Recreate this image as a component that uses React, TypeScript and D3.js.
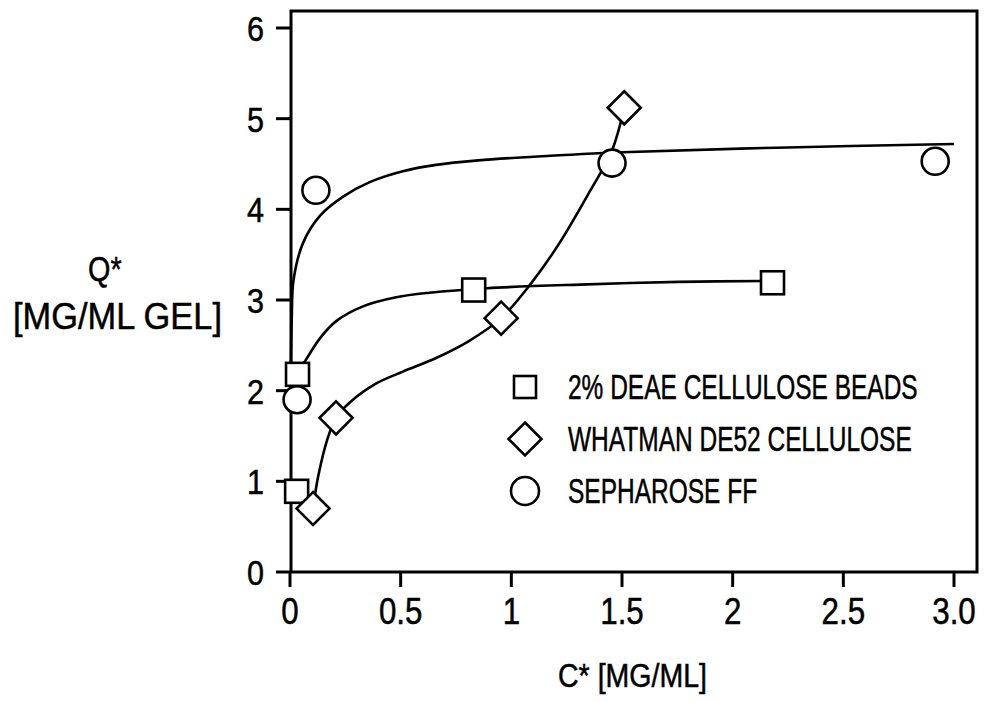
import React from 'react';
import * as d3 from 'd3';

// ---- data ----
const xTicks = [0, 0.5, 1, 1.5, 2, 2.5, 3];
const xTickLabels = ['0', '0.5', '1', '1.5', '2', '2.5', '3.0'];
const yTicks = [0, 1, 2, 3, 4, 5, 6];
const yTickLabels = ['0', '1', '2', '3', '4', '5', '6'];

const seriesNames = ['2% DEAE CELLULOSE BEADS', 'WHATMAN DE52 CELLULOSE', 'SEPHAROSE FF'];

// measured points
const deaeX = [0.03, 0.034, 0.83, 2.18];
const deaeY = [0.89, 2.18, 3.11, 3.19];
const whatX = [0.104, 0.208, 0.954, 1.51];
const whatY = [0.7, 1.7, 2.8, 5.12];
const sephX = [0.032, 0.117, 1.455, 2.915];
const sephY = [1.9, 4.21, 4.51, 4.53];

// fitted curves
const deaeFitX = [0.03, 0.077, 0.136, 0.21, 0.33, 0.48, 0.63, 0.89, 1.31, 1.76, 2.18];
const deaeFitY = [2.18, 2.36, 2.58, 2.77, 2.93, 3.03, 3.08, 3.13, 3.17, 3.2, 3.21];
const whatFitX = [0.104, 0.127, 0.167, 0.208, 0.27, 0.39, 0.51, 0.66, 0.81, 0.954, 1.085, 1.21, 1.355, 1.455, 1.51];
const whatFitY = [0.7, 1.05, 1.45, 1.7, 1.87, 2.08, 2.21, 2.36, 2.55, 2.8, 3.17, 3.6, 4.2, 4.65, 5.12];
const sephFitX = [0.004, 0.008, 0.016, 0.059, 0.136, 0.24, 0.36, 0.51, 0.66, 0.85, 1.1, 1.5, 2.2, 3.0];
const sephFitY = [2.25, 2.8, 3.22, 3.63, 3.93, 4.14, 4.3, 4.42, 4.49, 4.54, 4.58, 4.63, 4.68, 4.72];

const W = 984;
const H = 702;
const FONT = 'Liberation Sans, Arial, Helvetica, sans-serif';

export default function App() {
  const x = d3.scaleLinear().domain([0, 3]).range([290, 954]);
  const y = d3.scaleLinear().domain([0, 6]).range([572, 28]);
  const frame = { left: 291, right: 977, top: 11, bottom: 572 };

  const line = d3
    .line<[number, number]>()
    .x((d) => x(d[0]))
    .y((d) => y(d[1]))
    .curve(d3.curveCatmullRom.alpha(0.5));

  const zip = (a: number[], b: number[]) => a.map((v, i) => [v, b[i]] as [number, number]);

  const sq = (cx: number, cy: number, s: number, key: string) => (
    <rect key={key} x={cx - s / 2} y={cy - s / 2} width={s} height={s} fill="#fff" stroke="#000" strokeWidth={2.6} />
  );
  const dia = (cx: number, cy: number, r: number, key: string) => (
    <path
      key={key}
      d={`M${cx},${cy - r}L${cx + r},${cy}L${cx},${cy + r}L${cx - r},${cy}Z`}
      fill="#fff"
      stroke="#000"
      strokeWidth={2.6}
    />
  );
  const circ = (cx: number, cy: number, r: number, key: string) => (
    <circle key={key} cx={cx} cy={cy} r={r} fill="#fff" stroke="#000" strokeWidth={2.6} />
  );

  const legendX = 525;
  const legendBase = [399, 451, 503];

  const txt = { fill: '#000', stroke: '#000', strokeWidth: 0.5 };

  return (
    <svg
      width={W}
      height={H}
      style={{ position: 'absolute', left: 0, top: 0, background: '#fff' }}
      fontFamily={FONT}
    >
      <rect x={0} y={0} width={W} height={H} fill="#fff" />
      {/* frame */}
      <rect
        x={frame.left}
        y={frame.top}
        width={frame.right - frame.left}
        height={frame.bottom - frame.top}
        fill="none"
        stroke="#000"
        strokeWidth={3}
      />
      {/* y ticks */}
      {yTicks.map((t, i) => (
        <g key={'yt' + t}>
          <line x1={276} x2={frame.left} y1={y(t)} y2={y(t)} stroke="#000" strokeWidth={3} />
          <text transform={`translate(264,${y(t) + 13}) scale(0.85,1)`} textAnchor="end" fontSize={36} {...txt}>
            {yTickLabels[i]}
          </text>
        </g>
      ))}
      {/* x ticks */}
      {xTicks.map((t, i) => (
        <g key={'xt' + t}>
          <line x1={x(t)} x2={x(t)} y1={frame.bottom} y2={587} stroke="#000" strokeWidth={3} />
          <text transform={`translate(${x(t)},624) scale(0.87,1)`} textAnchor="middle" fontSize={36} {...txt}>
            {xTickLabels[i]}
          </text>
        </g>
      ))}
      {/* axis titles */}
      <text transform="translate(88,281) scale(0.8,1)" fontSize={36} {...txt}>
        Q*
      </text>
      <text transform="translate(13,329) scale(0.93,1)" fontSize={37} {...txt}>
        [MG/ML GEL]
      </text>
      <text transform="translate(558,687) scale(0.84,1)" fontSize={34} {...txt}>
        C* [MG/ML]
      </text>

      {/* curves */}
      <path d={line(zip(sephFitX, sephFitY)) || ''} fill="none" stroke="#000" strokeWidth={2.6} />
      <path d={line(zip(deaeFitX, deaeFitY)) || ''} fill="none" stroke="#000" strokeWidth={2.6} />
      <path d={line(zip(whatFitX, whatFitY)) || ''} fill="none" stroke="#000" strokeWidth={2.6} />

      {/* markers */}
      {sephX.map((v, i) => circ(x(v), y(sephY[i]), 13.5, 'c' + i))}
      {deaeX.map((v, i) => sq(x(v), y(deaeY[i]), 23, 's' + i))}
      {whatX.map((v, i) => dia(x(v), y(whatY[i]), 16.5, 'd' + i))}

      {/* legend */}
      {sq(legendX, legendBase[0] - 12, 22, 'ls')}
      {dia(legendX, legendBase[1] - 12, 16.5, 'ld')}
      {circ(legendX, legendBase[2] - 12, 14, 'lc')}
      {seriesNames.map((n, i) => (
        <text key={n} transform={`translate(568,${legendBase[i]}) scale(0.7,1)`} fontSize={35} {...txt}>
          {n}
        </text>
      ))}
    </svg>
  );
}
